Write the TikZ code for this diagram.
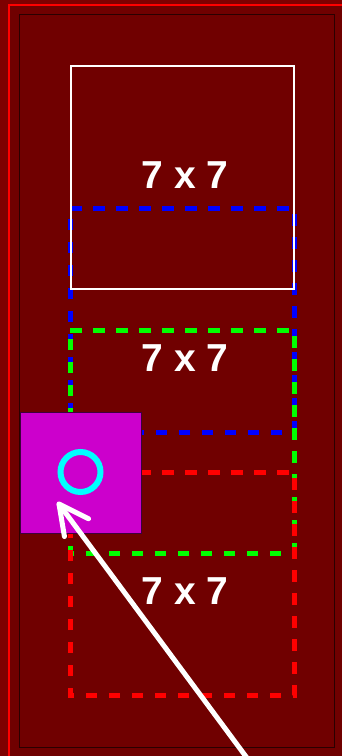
\documentclass[tikz,border=0pt]{standalone}
\usepackage{fontspec}
\setmainfont{Liberation Sans}
\usetikzlibrary{calc}
\definecolor{bgout}{HTML}{7E0000}
\definecolor{bgin}{HTML}{700000}
\definecolor{mag}{HTML}{CC00CC}
\definecolor{cyanc}{HTML}{00FFFF}
\definecolor{bluec}{HTML}{0000FF}
\definecolor{greenc}{HTML}{00FF00}
\definecolor{redc}{HTML}{FF0000}
\definecolor{framek}{HTML}{2A0000}
\tikzset{
  dashbox/.style={line width=5pt, dash pattern=on 11.5pt off 11.5pt},
  label7/.style={text=white, font=\bfseries\fontsize{39}{39}\selectfont, anchor=base, inner sep=0pt},
}
\begin{document}
\begin{tikzpicture}[x=1pt,y=-1pt]
\useasboundingbox (0,0) rectangle (342,756);
\fill[bgout] (0,0) rectangle (342,756);
\fill[bgin] (9,5) rectangle (350,765);
\draw[redc, line width=2pt] (9,5) rectangle (350,765);
\draw[framek, line width=1pt] (19.5,14.5) rectangle (334.5,747.5);
% dashed squares
\draw[bluec, dashbox] (70,208) -- (294,208) -- (294,432) -- (70,432) -- cycle;
\draw[greenc, dashbox] (70,330) -- (294,330) -- (294,553) -- (70,553) -- cycle;
\draw[redc, dashbox] (70,472) -- (294,472) -- (294,695) -- (70,695) -- cycle;
% white square
\draw[white, line width=2pt] (70.5,66) rectangle (294,289);
% magenta square
\node[draw=black!70!mag, line width=0.8pt, fill=mag, minimum size=121pt, inner sep=0pt, anchor=north west] (sq) at (20,412) {};
\node[draw=cyanc, line width=6pt, circle, minimum size=40pt, inner sep=0pt] (ring) at (80.5,472) {};
% labels
\node[label7] (t1) at (185,188) {7 x 7};
\node[label7] (t2) at (185,371) {7 x 7};
\node[label7] (t3) at (185,604) {7 x 7};
% arrow
\coordinate (tail) at (247,758);
\coordinate (tip) at (59,504);
\draw[white, line width=5pt, line cap=round] (tail) -- (tip);
\draw[white, line width=5pt, line cap=round, line join=round]
  ($(tip)!33pt!27:(tail)$) -- (tip) -- ($(tip)!33pt!-27:(tail)$);
\end{tikzpicture}
\end{document}
